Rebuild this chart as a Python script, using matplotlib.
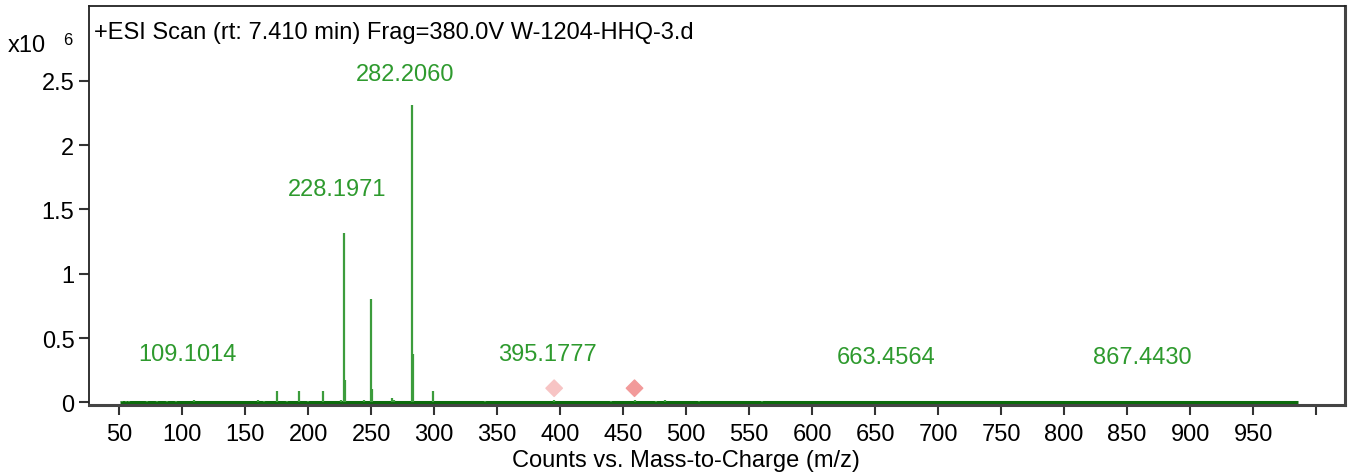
import matplotlib.pyplot as plt

plt.rcParams['font.family'] = ['Liberation Sans', 'DejaVu Sans']

# peak list (m/z, counts in units of 1e6)
mz = [52, 55, 58, 72, 80, 88, 95, 109.1014, 160, 165, 175.2, 183, 193.0, 200,
      211.7, 226, 228.1971, 229.2, 244, 250.2, 251.0, 266.4, 268, 282.2060,
      283.2, 298.7, 340, 395.1777, 440, 459, 476, 483, 510, 560, 663.4564,
      700, 867.4430]
counts = [0.01, 0.012, 0.01, 0.008, 0.01, 0.009, 0.008, 0.02, 0.018, 0.012,
          0.085, 0.012, 0.085, 0.01, 0.085, 0.02, 1.32, 0.17, 0.015, 0.80,
          0.10, 0.035, 0.02, 2.31, 0.375, 0.085, 0.008, 0.015, 0.008, 0.02,
          0.01, 0.02, 0.008, 0.008, 0.006, 0.005, 0.005]

# annotated masses and where their labels sit
label_mz = [109.1014, 228.1971, 282.2060, 395.1777, 663.4564, 867.4430]
label_y = [0.375, 1.66, 2.55, 0.375, 0.35, 0.35]

# precursor markers
marker_mz = [395.2, 459.0]
marker_y = [0.11, 0.11]
marker_col = ['#f7c4c4', '#f29a9a']

fs = 17

fig = plt.figure(figsize=(13.51, 4.77), dpi=100)
ax = fig.add_axes([0.0659, 0.149, 0.9297, 0.836])

# baseline trace
ax.plot([50.5, 986], [0.004, 0.004], color='#0b6b0b', lw=2.2, solid_capstyle='butt')
ax.vlines(mz, 0, counts, color='#3c9c3c', lw=1.6)

for m, y in zip(label_mz, label_y):
    ax.text(m - 5, y, '%.4f' % m, color='#2e9a2e', fontsize=fs,
            ha='center', va='center')

ax.scatter(marker_mz, marker_y, marker='D', s=70, c=marker_col, zorder=3)

ax.text(0.004, 0.935, '+ESI Scan (rt: 7.410 min) Frag=380.0V W-1204-HHQ-3.d',
        transform=ax.transAxes, fontsize=fs, ha='left', va='center')
fig.text(0.006, 0.903, 'x10', fontsize=fs, ha='left', va='center')
fig.text(0.047, 0.915, '6', fontsize=12, ha='left', va='center')

ax.set_xlim(26, 1023)
ax.set_ylim(-0.02, 3.08)
ax.set_xticks(range(50, 1001, 50))
ax.set_xticklabels([str(v) for v in range(50, 1000, 50)] + [''])
ax.set_yticks([0, 0.5, 1, 1.5, 2, 2.5])
ax.set_yticklabels(['0', '0.5', '1', '1.5', '2', '2.5'])
ax.tick_params(axis='both', labelsize=fs, direction='out', length=7,
               width=1.5, color='#333333')
ax.tick_params(axis='x', pad=6)
ax.set_xlabel('Counts vs. Mass-to-Charge (m/z)', fontsize=fs)
ax.xaxis.set_label_coords(0.475, -0.11)

for side in ['top', 'left']:
    ax.spines[side].set_linewidth(1.3)
    ax.spines[side].set_color('#222222')
for side in ['bottom', 'right']:
    ax.spines[side].set_linewidth(2.2)
    ax.spines[side].set_color('#444444')

plt.savefig('out.png', dpi=100)
